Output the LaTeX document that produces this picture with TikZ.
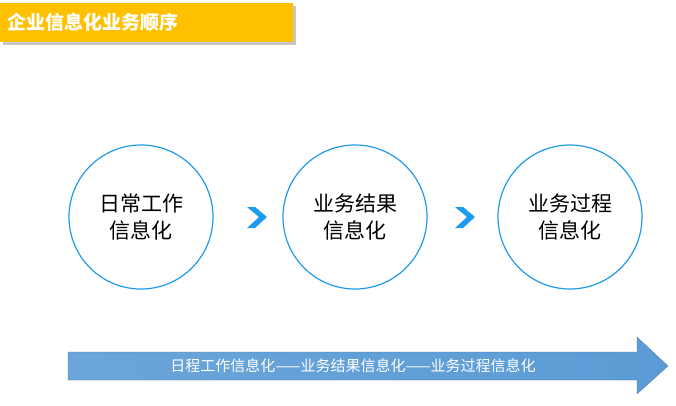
\documentclass[tikz,border=0pt]{standalone}
\usepackage{fontspec}
\newfontfamily\cjk{Noto Sans CJK SC}
\definecolor{titleyellow}{HTML}{FFC000}
\definecolor{ringblue}{HTML}{1E9BEA}
\definecolor{arrowblue}{HTML}{5B9BD5}
\tikzset{>=latex}
\usetikzlibrary{positioning,shadows}

\begin{document}
\begin{tikzpicture}[x=1pt,y=-1pt,
    stage/.style={circle,draw=ringblue,line width=1.2pt,minimum size=144pt,
      align=center,font=\cjk\fontsize{21}{27}\selectfont},
    chev/.style={fill=ringblue,draw=none}]
  \useasboundingbox (0,0) rectangle (676,405);
  % title
  \fill[gray!45] (3,6) rectangle (296,45);
  \fill[titleyellow] (0,3) rectangle (293,42);
  \node[anchor=west,text=white,font=\cjk\bfseries\fontsize{19}{22}\selectfont]
    (title) at (4,22) {企业信息化业务顺序};
  % stages
  \node[stage] (daily) at (141,217) {日常工作\\信息化};
  \node[stage] (result) at (355,217) {业务结果\\信息化};
  \node[stage] (process) at (570,217) {业务过程\\信息化};
  % chevrons
  \foreach \X in {258,466} {%
    \fill[chev] (\X-11,207) -- (\X-3,207) -- (\X+9,217) -- (\X-3,228)
      -- (\X-11,228) -- (\X+1,217) -- cycle;
  };
  % timeline arrow
  \shade[left color=arrowblue!90,right color=arrowblue,draw=arrowblue!80!black,line width=0.3pt]
    (68,352) -- (637,352) -- (637,337) -- (668,366) -- (637,394) -- (637,380)
    -- (68,380) -- cycle;
  \node[text=white,font=\cjk\fontsize{15}{18}\selectfont] (flow) at (353,366)
    {日程工作信息化——业务结果信息化——业务过程信息化};
\end{tikzpicture}
\end{document}
